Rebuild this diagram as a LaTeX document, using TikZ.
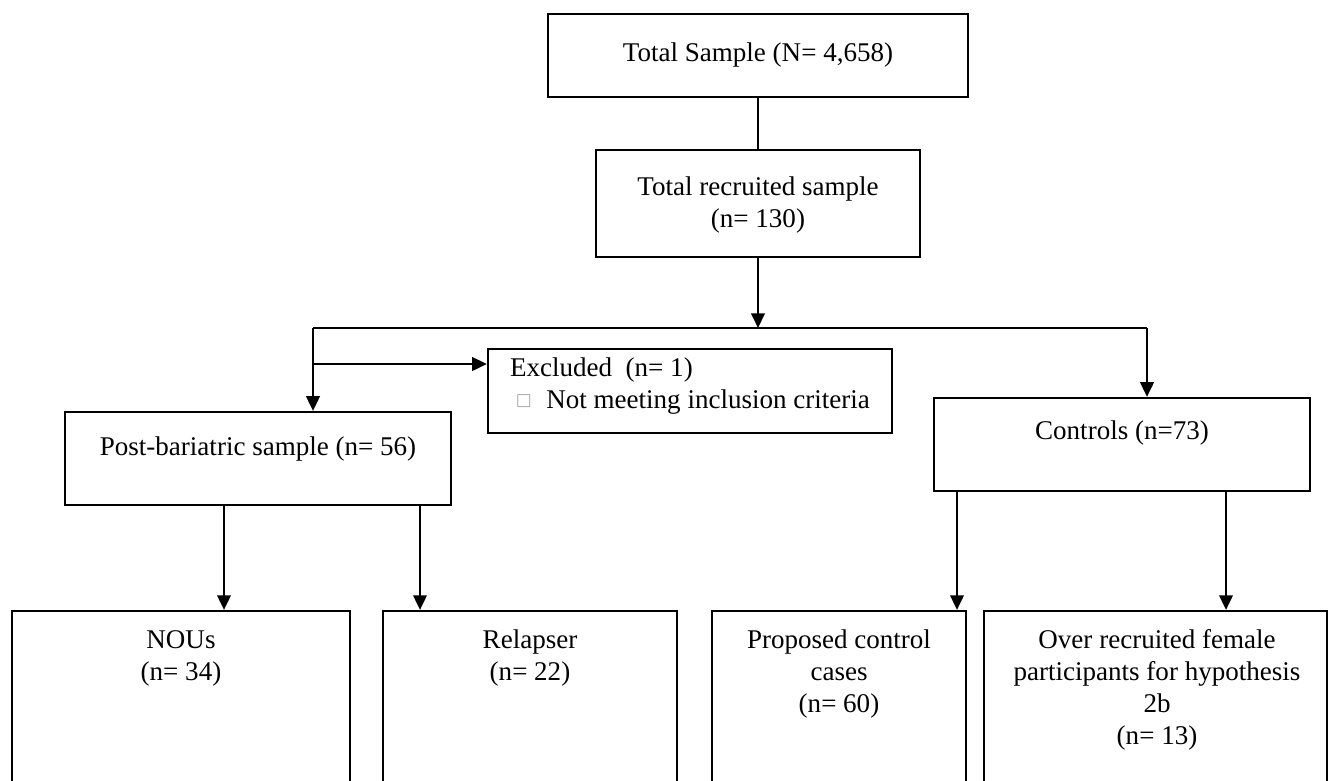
\documentclass[tikz,border=0pt]{standalone}
\usepackage{fontspec}
\setmainfont{Liberation Serif}
\newfontfamily\boxglyph{DejaVu Sans}
\usetikzlibrary{arrows.meta,fit}

\begin{document}
\begin{tikzpicture}[x=0.444pt,y=-0.444pt,line width=1pt,
  stagebox/.style={draw,rectangle,inner sep=0pt},
  stagetext/.style={inner sep=0pt,align=center,font=\fontsize{12}{14.2}\selectfont},
  arr/.style={-{Triangle[length=6.5pt,width=6pt]}}]
\useasboundingbox (0,0) rectangle (1329,780);

\node (total) [stagebox,fit={(548,14) (968,97)}] {};
\node (recruited) [stagebox,fit={(596,150) (920,257)}] {};
\node (post) [stagebox,fit={(65,412) (451,505)}] {};
\node (excl) [stagebox,fit={(488,349) (892,433)}] {};
\node (ctrl) [stagebox,fit={(934,398) (1310,491)}] {};
\node (nous) [stagebox,fit={(12,611) (350,800)}] {};
\node (relapse) [stagebox,fit={(383,611) (677,800)}] {};
\node (proposed) [stagebox,fit={(712,611) (966,800)}] {};
\node (over) [stagebox,fit={(984,611) (1327,800)}] {};

\node (totaltxt) [stagetext] at (758,55) {Total Sample (N= 4,658)};
\node (recruitedtxt) [stagetext] at (758,205) {Total recruited sample\\(n= 130)};
\node (posttxt) [stagetext] at (258,449) {Post-bariatric sample (n= 56)};
\node (excltxt) [stagetext,align=left,anchor=west] at (509,386)
  {Excluded~~(n= 1)\\\hspace{2.5pt}\raisebox{1.2pt}{\boxglyph\fontsize{7.5}{8}\selectfont\color{gray!70}□}\hspace{6.5pt}Not meeting inclusion criteria};
\node (ctrltxt) [stagetext] at (1122,433) {Controls (n=73)};
\node (noustxt) [stagetext] at (181,658) {NOUs\\(n= 34)};
\node (relapsetxt) [stagetext] at (530,658) {Relapser\\(n= 22)};
\node (proposedtxt) [stagetext] at (839,674) {Proposed control\\cases\\(n= 60)};
\node (overtxt) [stagetext] at (1157,690) {Over recruited female\\participants for hypothesis\\2b\\(n= 13)};

\coordinate (split) at (758,328);
\coordinate (splitL) at (313,328);
\coordinate (splitR) at (1147,328);
\coordinate (branch) at (313,364);

\draw (total) -- (recruited);
\draw [arr] (recruited) -- (split);
\draw (splitL) -- (splitR);
\draw [arr] (splitL) -- (splitL |- post.north);
\draw [arr] (branch) -- (branch -| excl.west);
\draw [arr] (splitR) -- (splitR |- ctrl.north);
\foreach \s/\t/\x in {post/nous/224,post/relapse/420,ctrl/proposed/957,ctrl/over/1226} {
  \coordinate (drop) at (\x,0);
  \draw [arr] (\s.south -| drop) -- (\t.north -| drop);
}
\end{tikzpicture}
\end{document}
